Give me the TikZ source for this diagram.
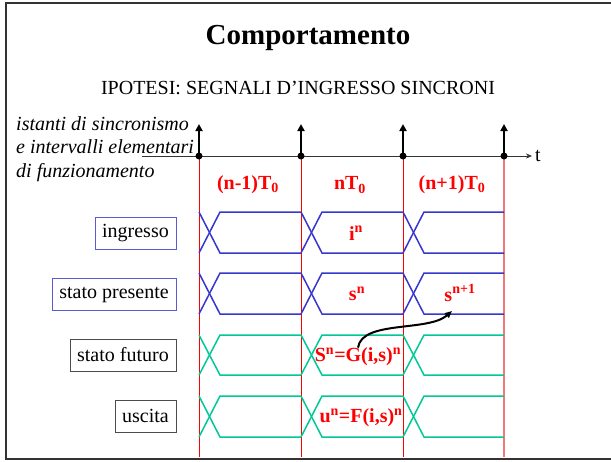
\documentclass[tikz,border=0pt]{standalone}
\usepackage{fontspec}
\setmainfont{Liberation Serif}
\usetikzlibrary{arrows.meta}
\definecolor{sigblue}{RGB}{55,55,205}
\definecolor{boxblue}{RGB}{90,90,215}
\definecolor{siggreen}{RGB}{0,200,150}
\definecolor{edgepink}{RGB}{240,120,120}
\tikzset{
  sig/.style={draw, inner xsep=7pt, inner ysep=0pt, minimum height=32pt,
    anchor=east, font=\fontsize{20}{22}\selectfont},
  per/.style={text=red, font=\bfseries\fontsize{20}{22}\selectfont, inner sep=1pt},
  wave/.style={line width=1.5pt},
}
\begin{document}
\begin{tikzpicture}[x=1pt, y=-1pt]
  \useasboundingbox (0,0) rectangle (611,461);
  \draw[line width=2pt, black!80] (611,3) -- (6,3) -- (6,459) -- (611,459);
  \node (title) at (308,38) {\fontsize{29}{32}\selectfont\bfseries Comportamento};
  \node (hyp) at (298,88) {\fontsize{20}{22}\selectfont IPOTESI: SEGNALI D'INGRESSO SINCRONI};
  \node[anchor=west, align=left, inner sep=0pt,
    font=\itshape\fontsize{20}{23.5}\selectfont] (note) at (16,149)
    {istanti di sincronismo\\e intervalli elementari\\di funzionamento};
  % asse dei tempi
  \coordinate (t0) at (142,156);
  \coordinate (t1) at (532,156);
  \draw[black!80, -{Stealth[length=6pt, width=5pt]}] (t0) -- (t1);
  \node[right, inner sep=3pt, font=\fontsize{20}{22}\selectfont] (tt) at (t1) {t};
  \foreach \i/\x in {1/199, 2/301, 3/403, 4/504}{
    \coordinate (s\i) at (\x,156);
    \coordinate (u\i) at (\x,124);
    \coordinate (d\i) at (\x,457);
  }
  \foreach \i in {1,2,3}
    \draw[red, line width=0.8pt] (s\i) -- (d\i);
  \draw[edgepink, line width=1.3pt] (s4) -- (d4);
  \foreach \i in {1,2,3,4}{
    \draw[line width=2.5pt, -{Triangle[length=7pt, width=7pt]}] (s\i) -- (u\i);
    \fill (s\i) circle (3.5pt);
  }
  \node[per] (p1) at (248,185) {(n-1)T\textsubscript{0}};
  \node[per] (p2) at (350,185) {nT\textsubscript{0}};
  \node[per] (p3) at (452,185) {(n+1)T\textsubscript{0}};
  % forme d'onda
  \foreach \yt/\yb/\c in {212/253/sigblue, 273/314/sigblue, 335/375/siggreen, 396/437/siggreen}{
    \foreach \b/\e in {199/301, 301/403, 403/504}{
      \draw[wave, draw=\c] (\b,\yt) -- (\b+21,\yb) -- (\e,\yb);
      \draw[wave, draw=\c] (\b,\yb) -- (\b+21,\yt) -- (\e,\yt);
    }
  }
  \node[sig, draw=boxblue] (in) at (176,233) {ingresso};
  \node[sig, draw=boxblue] (sp) at (176,294.5) {stato presente};
  \node[sig, draw=black!70] (sf) at (176,355) {stato futuro};
  \node[sig, draw=black!70] (out) at (176,416) {uscita};
  \node[per] (iv) at (356,233) {i\textsuperscript{n}};
  \node[per] (sv) at (357,294) {s\textsuperscript{n}};
  \node[per] (snext) at (460,293) {s\textsuperscript{n+1}};
  \node[per, inner sep=0pt] (gv) at (358,357) {S\textsuperscript{n}=G(i,s)\textsuperscript{n}};
  \node[per, inner sep=0pt] (fv) at (361,418) {u\textsuperscript{n}=F(i,s)\textsuperscript{n}};
  \coordinate (tip) at (452,311);
  \draw[line width=2pt, -{Triangle[length=7pt, width=6pt]}]
    (gv.north) .. controls (362,320) and (428,332) .. (tip);
\end{tikzpicture}
\end{document}
